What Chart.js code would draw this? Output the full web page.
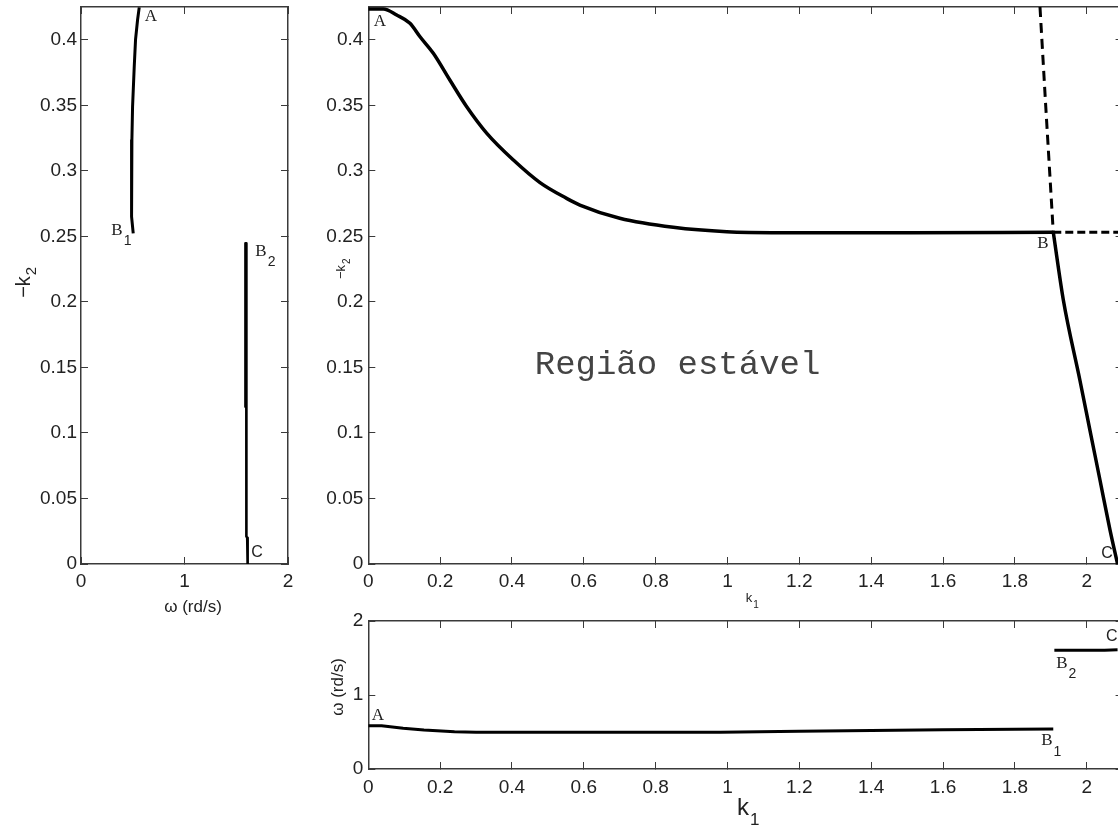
<!DOCTYPE html>
<html>
<head>
<meta charset="utf-8">
<title>Região estável</title>
<script src="https://cdn.jsdelivr.net/npm/chart.js@4.4.1/dist/chart.umd.min.js"></script>
<style>
  html, body { margin: 0; padding: 0; background: #fff; overflow: hidden; width: 1118px; height: 827px; }
  canvas { position: absolute; }
  #omegaPanel { left: 0; top: 0; }
  #k2Panel { left: 300px; top: 0; }
  #wPanel { left: 300px; top: 590px; }
</style>
</head>
<body>
<canvas id="omegaPanel" width="300" height="627"></canvas>
<canvas id="k2Panel" width="830" height="615"></canvas>
<canvas id="wPanel" width="830" height="237"></canvas>
<script>
// ticks
const k1Ticks = [0, 0.2, 0.4, 0.6, 0.8, 1, 1.2, 1.4, 1.6, 1.8, 2];
const k2Ticks = [0, 0.05, 0.1, 0.15, 0.2, 0.25, 0.3, 0.35, 0.4];
const omegaTicks = [0, 1, 2];

// painel esquerdo: ω ao longo da fronteira (-k2)
const wAB1 = [0.5626, 0.5464, 0.5271, 0.5143, 0.4982, 0.4918, 0.4886, 0.4853, 0.4918, 0.5046];
const k2AB1 = [0.4247, 0.4151, 0.4003, 0.3794, 0.3489, 0.3235, 0.3006, 0.2777, 0.265, 0.2523];
const wB2C = [1.597, 1.597, 1.599, 1.606, 1.61];
const k2B2C = [0.2447, 0.12, 0.021, 0.02, 0];
const wB2Cin = [1.589, 1.589];
const k2B2Cin = [0.2447, 0.12];

// painel principal: fronteira no plano k1 x -k2
const k1Edge = [0, 0.042, 0.079, 0.116, 0.144, 0.181, 0.227, 0.274, 0.33, 0.404, 0.478, 0.552, 0.589, 0.7, 0.849, 0.998, 1.146, 1.5, 1.907];
const k2Edge = [0.4235, 0.4235, 0.4189, 0.4126, 0.4023, 0.3897, 0.3693, 0.3489, 0.3286, 0.3082, 0.291, 0.279, 0.2739, 0.2638, 0.2569, 0.2535, 0.2528, 0.2528, 0.2531];
const k1Fall = [1.907, 1.935, 1.981, 2.009, 2.037, 2.065, 2.086];
const k2Fall = [0.2531, 0.2014, 0.1404, 0.1022, 0.0641, 0.0259, 0];
const k1DashUp = [1.870, 1.885, 1.907];
const k2DashUp = [0.425, 0.354, 0.2531];
const k1DashRight = [1.907, 2.1];
const k2DashRight = [0.2531, 0.2531];

// painel inferior: ω em função de k1
const k1W = [0, 0.037, 0.097, 0.155, 0.24, 0.3, 0.6, 0.98, 1.2, 1.4, 1.6, 1.8, 1.907];
const wA = [0.585, 0.585, 0.55, 0.527, 0.504, 0.497, 0.497, 0.497, 0.51, 0.52, 0.53, 0.536, 0.54];
const k1W2 = [1.91, 2.05, 2.086];
const wB2 = [1.604, 1.604, 1.61];

const AXIS = '#3a3a3a';
const TEXT = '#222';
const SANS = 'Liberation Sans, Arial, sans-serif';
const SERIF = 'Liberation Serif, Times New Roman, serif';

const pts = (xs, ys) => xs.map((x, i) => ({ x, y: ys[i] }));

function line(xs, ys, extra) {
  return Object.assign({
    data: pts(xs, ys), showLine: true, pointRadius: 0, borderColor: '#000',
    borderWidth: 3, borderJoinStyle: 'round', fill: false, tension: 0
  }, extra || {});
}

// eixo estilo matlab: marcas para dentro nos quatro lados
function axis(position, min, max, ticks, size, pad) {
  const horiz = position === 'top' || position === 'bottom';
  return {
    type: 'linear', position, min, max,
    afterBuildTicks: s => { s.ticks = ticks.map(v => ({ value: v })); },
    afterFit: s => {
      if (horiz) s.height = size; else s.width = size;
      s.paddingLeft = s.paddingRight = s.paddingTop = s.paddingBottom = 0;
    },
    grid: { drawOnChartArea: false, drawTicks: true, tickLength: -7, color: AXIS, lineWidth: 1 },
    border: { display: true, color: AXIS, width: 1.5 },
    ticks: {
      display: position === 'left' || position === 'bottom',
      padding: pad, color: TEXT, font: { family: SANS, size: 19 },
      maxRotation: 0, autoSkip: false, callback: v => String(v)
    }
  };
}

// textos: rótulos dos pontos (coordenadas de dados) e títulos (pixels)
function notes(items) {
  return {
    id: 'notes',
    afterDraw(chart) {
      const ctx = chart.ctx;
      const sx = chart.scales.x, sy = chart.scales.y;
      items.forEach(n => {
        const px = n.at ? sx.getPixelForValue(n.at[0]) : n.px;
        const py = n.at ? sy.getPixelForValue(n.at[1]) : n.py;
        ctx.save();
        ctx.translate(px, py);
        if (n.rotate) ctx.rotate(n.rotate);
        ctx.fillStyle = n.color || TEXT;
        ctx.textBaseline = 'middle';
        ctx.textAlign = 'left';
        ctx.font = n.font;
        const w = ctx.measureText(n.text).width;
        ctx.fillText(n.text, -w / 2, 0);
        if (n.sub) {
          ctx.font = n.subFont;
          ctx.fillText(n.sub, w / 2 + 1, n.drop);
        }
        ctx.restore();
      });
    }
  };
}

function makeChart(id, datasets, scales, padding, items) {
  return new Chart(document.getElementById(id), {
    type: 'scatter',
    data: { datasets },
    options: {
      responsive: false, animation: false, events: [],
      layout: { padding },
      scales,
      plugins: { legend: { display: false }, tooltip: { enabled: false } }
    },
    plugins: [notes(items)]
  });
}

const serif = '17px ' + SERIF;
const sub = '14px ' + SANS;
const letterC = '16px ' + SANS;

makeChart('omegaPanel', [
  line(wAB1, k2AB1),
  line(wB2C, k2B2C, { borderWidth: 2.6 }),
  line(wB2Cin, k2B2Cin, { borderWidth: 2.6 })
], {
  x: axis('bottom', 0, 2, omegaTicks, 63, 13.5),
  x2: axis('top', 0, 2, omegaTicks, 0, 0),
  y: axis('left', 0, 0.425, k2Ticks, 81, 11),
  y2: axis('right', 0, 0.425, k2Ticks, 0, 0)
}, { top: 7, right: 12, left: 0, bottom: 0 }, [
  { text: 'A', at: [0.676, 0.4176], font: serif },
  { text: 'B', sub: '1', at: [0.348, 0.2548], font: serif, subFont: sub, drop: 11 },
  { text: 'B', sub: '2', at: [1.739, 0.2388], font: serif, subFont: sub, drop: 11 },
  { text: 'C', at: [1.70, 0.0084], font: letterC },
  { text: 'ω (rd/s)', px: 193, py: 607, font: '17px ' + SANS },
  { text: '−k', sub: '2', px: 24, py: 287, rotate: -Math.PI / 2, font: '20px ' + SANS, subFont: '15px ' + SANS, drop: 8 }
]);

makeChart('k2Panel', [
  line(k1Edge, k2Edge, { borderWidth: 3.5, cubicInterpolationMode: 'monotone' }),
  line(k1Fall, k2Fall, { borderWidth: 3.5, cubicInterpolationMode: 'monotone' }),
  line(k1DashUp, k2DashUp, { borderDash: [10, 6] }),
  line(k1DashRight, k2DashRight, { borderDash: [8, 4] })
], {
  x: axis('bottom', 0, 2.1, k1Ticks, 51, 13.5),
  x2: axis('top', 0, 2.1, k1Ticks, 0, 0),
  y: axis('left', 0, 0.425, k2Ticks, 68.3, 12),
  y2: axis('right', 0, 0.425, k2Ticks, 0, 0)
}, { top: 7, right: 7.4, left: 0, bottom: 0 }, [
  { text: 'A', at: [0.0326, 0.4136], font: serif },
  { text: 'B', at: [1.878, 0.2449], font: serif },
  { text: 'C', at: [2.0565, 0.0076], font: letterC },
  { text: 'Região estável', at: [0.861, 0.152], font: '34px Liberation Mono, Courier New, monospace', color: '#444' },
  { text: 'k', sub: '1', px: 449, py: 598, font: '13px ' + SANS, subFont: '10px ' + SANS, drop: 7 },
  { text: '−k', sub: '2', px: 41, py: 272, rotate: -Math.PI / 2, font: '13px ' + SANS, subFont: '10px ' + SANS, drop: 6 }
]);

makeChart('wPanel', [
  line(k1W, wA, { borderWidth: 3 }),
  line(k1W2, wB2, { borderWidth: 3 })
], {
  x: axis('bottom', 0, 2.1, k1Ticks, 58, 14.5),
  x2: axis('top', 0, 2.1, k1Ticks, 0, 0),
  y: axis('left', 0, 2, omegaTicks, 68.3, 12),
  y2: axis('right', 0, 2, omegaTicks, 0, 0)
}, { top: 31, right: 7.4, left: 0, bottom: 0 }, [
  { text: 'A', at: [0.027, 0.716], font: serif },
  { text: 'B', sub: '1', at: [1.889, 0.378], font: serif, subFont: sub, drop: 11 },
  { text: 'B', sub: '2', at: [1.931, 1.432], font: serif, subFont: sub, drop: 11 },
  { text: 'C', at: [2.07, 1.784], font: letterC },
  { text: 'k', sub: '1', px: 443, py: 218, font: '24px ' + SANS, subFont: '17px ' + SANS, drop: 12 },
  { text: 'ω (rd/s)', px: 38, py: 97, rotate: -Math.PI / 2, font: '17px ' + SANS }
]);
</script>
</body>
</html>
